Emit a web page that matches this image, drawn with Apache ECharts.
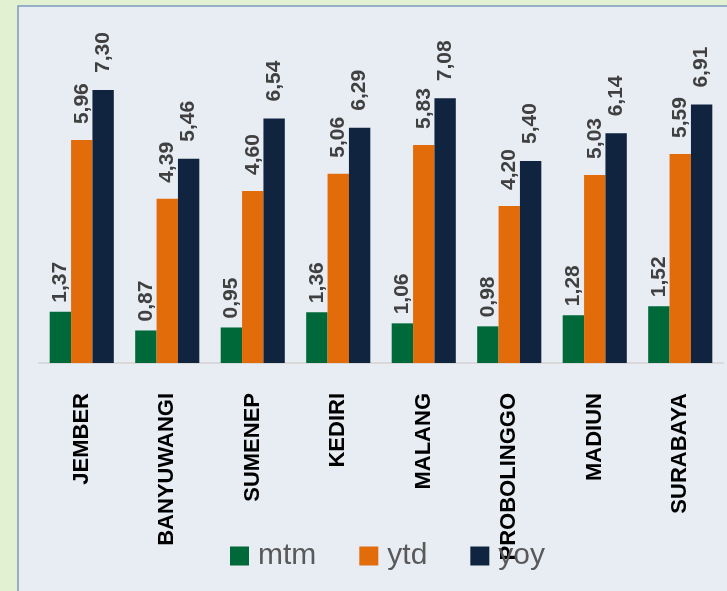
<!DOCTYPE html>
<html>
<head>
<meta charset="utf-8">
<script src="https://cdn.jsdelivr.net/npm/echarts@6/dist/echarts.min.js"></script>
<style>
  html, body { margin: 0; padding: 0; background: #e3f1d3; }
  #chart { width: 727px; height: 591px; }
</style>
</head>
<body>
<div id="chart"></div>
<script>
var cities = ['JEMBER', 'BANYUWANGI', 'SUMENEP', 'KEDIRI', 'MALANG', 'PROBOLINGGO', 'MADIUN', 'SURABAYA'];
var mtm = [1.37, 0.87, 0.95, 1.36, 1.06, 0.98, 1.28, 1.52];
var ytd = [5.96, 4.39, 4.60, 5.06, 5.83, 4.20, 5.03, 5.59];
var yoy = [7.30, 5.46, 6.54, 6.29, 7.08, 5.40, 6.14, 6.91];

var font = '"Liberation Sans", Arial, sans-serif';

var makeLabel = function (distance) {
  return {
    show: true,
    position: 'top',
    rotate: 90,
    align: 'left',
    verticalAlign: 'middle',
    distance: distance,
    fontFamily: font,
    fontWeight: 'bold',
    fontSize: 21,
    color: '#404040',
    formatter: function (p) { return p.value.toFixed(2).replace('.', ','); }
  };
};

var makeSeries = function (name, data, color, distance) {
  return {
    name: name,
    type: 'bar',
    data: data,
    barGap: '0%',
    barCategoryGap: '25%',
    itemStyle: { color: color },
    label: makeLabel(distance)
  };
};

var chart = echarts.init(document.getElementById('chart'));
chart.setOption({
  animation: false,
  graphic: [{
    type: 'rect',
    z: -10,
    shape: { x: 18, y: 6, width: 720, height: 600 },
    style: { fill: '#e8edf4', stroke: '#7f99bd', lineWidth: 1.5 }
  }],
  grid: { left: 39, right: 4, top: 26.4, bottom: 228 },
  legend: {
    left: 230,
    top: 541,
    padding: 0,
    itemWidth: 19,
    itemHeight: 19,
    itemGap: 43,
    icon: 'rect',
    textStyle: { fontFamily: font, fontSize: 30, color: '#595959', padding: [0, 0, 0, 4] },
    data: ['mtm', 'ytd', 'yoy']
  },
  xAxis: {
    type: 'category',
    data: cities,
    axisLine: { lineStyle: { color: '#d9d9d9', width: 2 } },
    axisTick: { show: false },
    axisLabel: {
      rotate: 90,
      margin: 30,
      interval: 0,
      fontFamily: font,
      fontWeight: 'bold',
      fontSize: 22,
      color: '#000000'
    }
  },
  yAxis: { type: 'value', min: 0, max: 9, show: false, splitLine: { show: false } },
  series: [
    makeSeries('mtm', mtm, '#00693a', 9),
    makeSeries('ytd', ytd, '#e36c0a', 16),
    makeSeries('yoy', yoy, '#10243f', 17)
  ]
});
</script>
</body>
</html>
